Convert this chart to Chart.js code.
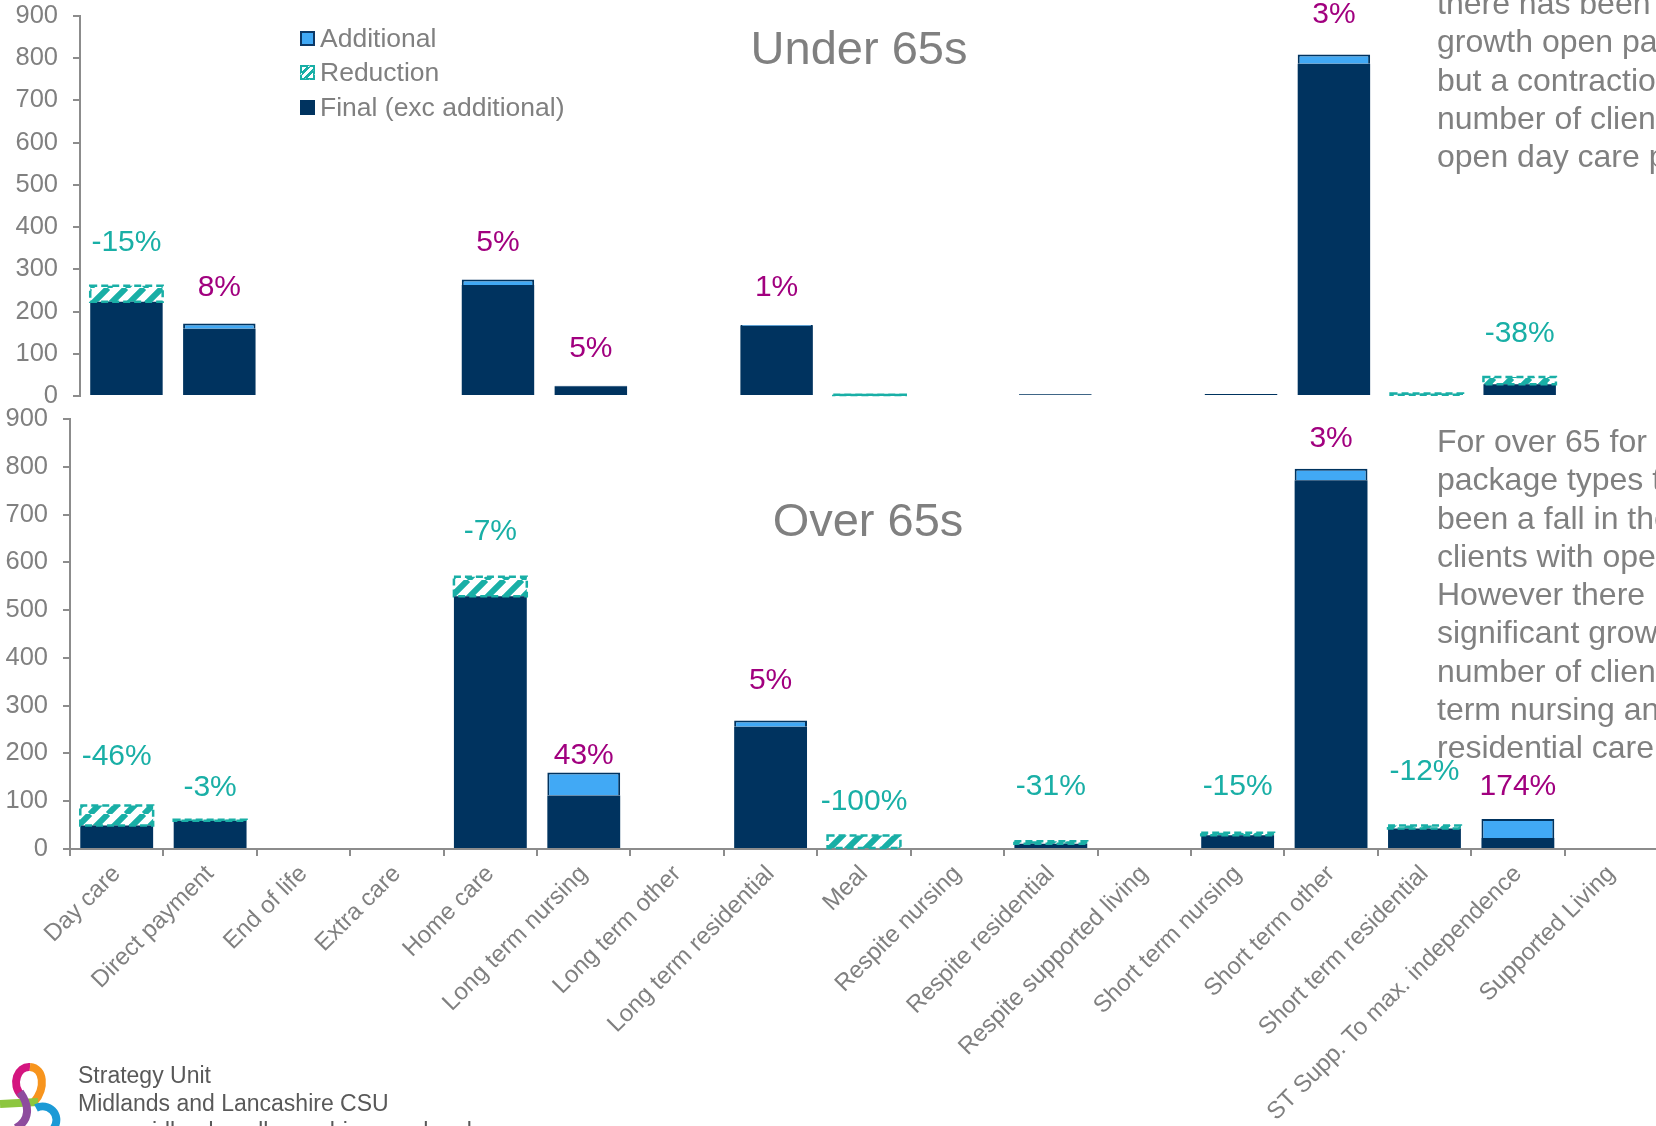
<!DOCTYPE html>
<html>
<head>
<meta charset="utf-8">
<title>Open packages - Under 65s / Over 65s</title>
<script src="https://cdn.jsdelivr.net/npm/chart.js@4.4.1/dist/chart.umd.min.js"></script>
<style>
html, body { margin: 0; padding: 0; background: #fff; width: 1656px; height: 1126px; overflow: hidden; }
#wrap { position: relative; width: 1656px; height: 1126px; overflow: hidden; font-family: "Liberation Sans", Arial, sans-serif; }
canvas { position: absolute; left: 0; }
#topChart { top: 0; }
#bottomChart { top: 400px; }
.title { position: absolute; font-size: 47px; line-height: 47px; color: #808080; transform: translateX(-50%); white-space: nowrap; }
.note { position: absolute; left: 1437px; font-size: 32px; line-height: 38.3px; color: #808080; white-space: nowrap; }
.legend { position: absolute; left: 300px; top: 21px; font-size: 26.5px; color: #808080; }
.legend div { height: 34.5px; display: flex; align-items: center; }
.legend .box { width: 15px; height: 15px; box-sizing: border-box; margin-right: 5px; flex: none; }
.box.add { background: #41a9f5; border: 2px solid #0c3866; }
.box.red { border: 2.5px dashed #19afa6; background: repeating-linear-gradient(135deg, #fff 0 3px, #19afa6 3px 6px); }
.box.fin { background: #00335f; }
.footer { position: absolute; left: 78px; top: 1061px; font-size: 23px; line-height: 28px; color: #595959; white-space: nowrap; }
#logo { position: absolute; left: 0; top: 1062px; }
</style>
</head>
<body>
<div id="wrap">
  <canvas id="topChart" width="1659" height="416" style="width:1659px;height:416px"></canvas>
  <canvas id="bottomChart" width="1658" height="726" style="width:1658px;height:726px"></canvas>

  <div class="title" style="left:859px; top:24px">Under 65s</div>
  <div class="title" style="left:868px; top:496px">Over 65s</div>

  <div class="legend">
    <div><span class="box add"></span>Additional</div>
    <div><span class="box red"></span>Reduction</div>
    <div><span class="box fin"></span>Final (exc additional)</div>
  </div>

  <div class="note" style="top:-16px">there has been significant<br>growth open packages<br>but a contraction in the<br>number of clients with<br>open day care packages</div>
  <div class="note" style="top:422px">For over 65 for most<br>package types there has<br>been a fall in the number of<br>clients with open packages.<br>However there has been<br>significant growth in the<br>number of clients in short<br>term nursing and<br>residential care</div>

  <svg id="logo" width="64" height="64" viewBox="0 0 64 64">
    <path d="M22 34 C10 22 18 4 30 5" fill="none" stroke="#d4157f" stroke-width="8"/>
    <path d="M30 5 C44 6 46 26 34 40" fill="none" stroke="#f7941d" stroke-width="8"/>
    <path d="M0 42 L38 40" fill="none" stroke="#8dc63f" stroke-width="8"/>
    <path d="M20 30 C30 44 30 58 16 66" fill="none" stroke="#8e4c9e" stroke-width="8"/>
    <path d="M36 46 C48 40 62 52 54 66" fill="none" stroke="#1b9ad6" stroke-width="8"/>
  </svg>
  <div class="footer">Strategy Unit<br>Midlands and Lancashire CSU<br>www.midlandsandlancashirecsu.nhs.uk</div>
</div>

<script>
// package types (x axis)
const categories = ['Day care', 'Direct payment', 'End of life', 'Extra care', 'Home care',
    'Long term nursing', 'Long term other', 'Long term residential', 'Meal', 'Respite nursing',
    'Respite residential', 'Respite supported living', 'Short term nursing', 'Short term other',
    'Short term residential', 'ST Supp. To max. independence', 'Supported Living'];

// Under 65s - number of clients with open packages
const under65Final      = [223, 159, 0, 0, 263, 23, 0, 166, 0, 0, 4, 0, 5, 787, 3, 28, 0];
const under65Additional = [0, 13, 0, 0, 13, 1, 0, 2, 0, 0, 0, 0, 0, 22, 0, 0, 0];
const under65Reduction  = [38, 0, 0, 0, 0, 0, 0, 0, 3, 0, 0, 0, 0, 0, 3, 17, 0];
const under65Change     = ['-15%', '8%', '', '', '5%', '5%', '', '1%', '', '', '', '', '', '3%', '', '-38%', ''];
const under65ChangeAt   = [364, 256, 0, 0, 364, 113, 0, 256, 0, 0, 0, 0, 0, 902, 0, 148, 0];

// Over 65s
const over65Final      = [49, 59, 0, 0, 529, 112, 0, 256, 0, 0, 11, 0, 29, 772, 43, 23, 0];
const over65Additional = [0, 0, 0, 0, 0, 48, 0, 13, 0, 0, 0, 0, 0, 24, 0, 40, 0];
const over65Reduction  = [42, 2, 0, 0, 41, 0, 0, 0, 28, 0, 5, 0, 5, 0, 6, 0, 0];
const over65Change     = ['-46%', '-3%', '', '', '-7%', '43%', '', '5%', '-100%', '', '-31%', '', '-15%', '3%', '-12%', '174%', ''];
const over65ChangeAt   = [193, 129, 0, 0, 665, 195, 0, 352, 98, 0, 130, 0, 130, 858, 161, 130, 0];

const NAVY = '#00335f';
const LIGHT_BLUE = '#41a9f5';
const TEAL = '#19afa6';
const MAGENTA = '#a1007f';
const GREY = '#808080';
const AXIS = '#8c8c8c';
const FONT = '"Liberation Sans", Arial, sans-serif';

function hatch() {
    const s = 18;
    const c = document.createElement('canvas');
    c.width = s; c.height = s;
    const g = c.getContext('2d');
    g.fillStyle = '#fff';
    g.fillRect(0, 0, s, s);
    g.strokeStyle = TEAL;
    g.lineWidth = 6;
    g.beginPath();
    for (let k = -1; k <= 1; k++) {
        g.moveTo(k * s, s);
        g.lineTo(k * s + s, 0);
    }
    g.stroke();
    return g.createPattern(c, 'repeat');
}

// scales should not push the plot area around, the page layout is fixed
function noPad(scale) {
    scale.paddingTop = 0;
    scale.paddingBottom = 0;
    scale.paddingLeft = 0;
    scale.paddingRight = 0;
}

// dashed outline round the reduction bars + the % change labels
function overlay(reduction, changes, changeAt) {
    return {
        id: 'overlay',
        afterDatasetsDraw(chart) {
            const ctx = chart.ctx;
            const meta = chart.getDatasetMeta(2);
            ctx.save();
            ctx.strokeStyle = TEAL;
            ctx.lineWidth = 2.5;
            ctx.setLineDash([7, 4]);
            meta.data.forEach((bar, i) => {
                if (!reduction[i]) return;
                const p = bar.getProps(['x', 'y', 'base', 'width'], true);
                ctx.strokeRect(p.x - p.width / 2, p.y, p.width, p.base - p.y);
            });
            ctx.setLineDash([]);
            ctx.font = '30px ' + FONT;
            ctx.textAlign = 'center';
            ctx.textBaseline = 'middle';
            changes.forEach((t, i) => {
                if (!t) return;
                ctx.fillStyle = t.startsWith('-') ? TEAL : MAGENTA;
                ctx.fillText(t, chart.scales.x.getPixelForValue(i), chart.scales.y.getPixelForValue(changeAt[i]));
            });
            ctx.restore();
        }
    };
}

function makeChart(id, finals, additional, reduction, changes, changeAt, showLabels, axisLeft, pad) {
    const ctx = document.getElementById(id).getContext('2d');
    return new Chart(ctx, {
        type: 'bar',
        data: {
            labels: categories,
            datasets: [
                { label: 'Final (exc additional)', data: finals, backgroundColor: NAVY, borderWidth: 0 },
                { label: 'Additional', data: additional, backgroundColor: LIGHT_BLUE, borderColor: NAVY, borderWidth: 2 },
                { label: 'Reduction', data: reduction, backgroundColor: hatch(), borderWidth: 0 }
            ]
        },
        options: {
            responsive: false,
            devicePixelRatio: 1,
            animation: false,
            datasets: { bar: { barPercentage: 0.78, categoryPercentage: 1 } },
            layout: { padding: pad, autoPadding: false },
            plugins: { legend: { display: false }, tooltip: { enabled: false } },
            scales: {
                x: showLabels ? {
                    stacked: true,
                    afterFit: function(scale) { noPad(scale); scale.height = 277; },
                    ticks: { color: GREY, font: { size: 24, family: FONT }, minRotation: 45, maxRotation: 45, autoSkip: false, padding: 4 },
                    grid: { drawOnChartArea: false, offset: true, tickLength: 7, color: AXIS, lineWidth: 2 },
                    border: { display: true, color: AXIS, width: 2 }
                } : { stacked: true, display: false },
                y: {
                    stacked: true,
                    min: 0,
                    max: 900,
                    afterFit: function(scale) { noPad(scale); scale.width = axisLeft; },
                    ticks: { stepSize: 100, color: GREY, font: { size: 25.5, family: FONT }, padding: 15 },
                    grid: { drawOnChartArea: false, tickLength: 7, color: AXIS, lineWidth: 2 },
                    border: { display: true, color: AXIS, width: 2 }
                }
            }
        },
        plugins: [overlay(reduction, changes, changeAt)]
    });
}

makeChart('topChart', under65Final, under65Additional, under65Reduction, under65Change, under65ChangeAt,
    false, 80, { top: 16, bottom: 20, left: 0, right: 0 });
makeChart('bottomChart', over65Final, over65Additional, over65Reduction, over65Change, over65ChangeAt,
    true, 70, { top: 19, bottom: 0, left: 0, right: 0 });
</script>
</body>
</html>
